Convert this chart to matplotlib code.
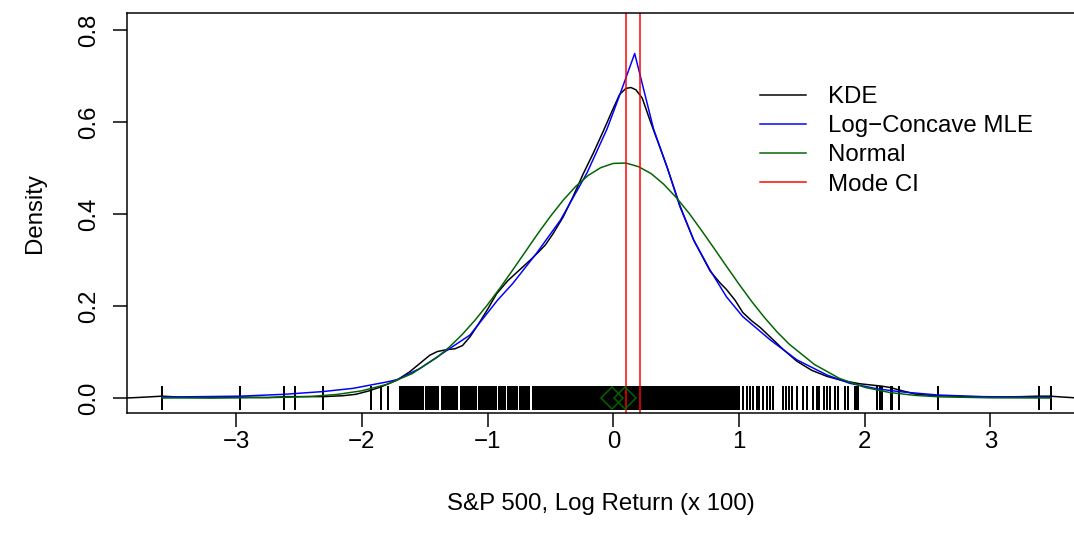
import matplotlib
matplotlib.use("Agg")
import matplotlib.pyplot as plt

plt.rcParams['font.family'] = ['Liberation Sans', 'DejaVu Sans']

# kernel density estimate
kde_x = [-3.87, -3.72, -3.59, -3.45, -3.20, -2.97, -2.75, -2.60, -2.45, -2.30,
         -2.15, -2.05, -1.95, -1.85, -1.72, -1.62, -1.54, -1.46, -1.40, -1.33,
         -1.26, -1.20, -1.14, -1.07, -1.00, -0.93, -0.84, -0.74, -0.66, -0.60,
         -0.54, -0.48, -0.40, -0.32, -0.24, -0.16, -0.08, 0.00, 0.05, 0.10,
         0.14, 0.18, 0.23, 0.29, 0.33, 0.38, 0.43, 0.53, 0.64, 0.77,
         0.85, 0.90, 0.97, 1.03, 1.10, 1.17, 1.22, 1.27, 1.35, 1.46,
         1.58, 1.70, 1.82, 1.96, 2.06, 2.13, 2.20, 2.28, 2.41, 2.58,
         2.80, 3.07, 3.25, 3.38, 3.47, 3.58, 3.70]
kde_y = [0.000, 0.002, 0.004, 0.002, 0.0005, 0.002, 0.001, 0.003, 0.003, 0.003,
         0.005, 0.008, 0.015, 0.024, 0.039, 0.057, 0.075, 0.093, 0.101, 0.105,
         0.107, 0.114, 0.133, 0.162, 0.193, 0.226, 0.255, 0.280, 0.300, 0.316,
         0.333, 0.357, 0.393, 0.438, 0.487, 0.532, 0.580, 0.630, 0.660, 0.673,
         0.675, 0.670, 0.652, 0.605, 0.575, 0.538, 0.500, 0.418, 0.343, 0.276,
         0.250, 0.236, 0.212, 0.186, 0.168, 0.153, 0.140, 0.127, 0.106, 0.080,
         0.060, 0.047, 0.038, 0.031, 0.028, 0.026, 0.023, 0.017, 0.008, 0.005,
         0.003, 0.002, 0.003, 0.004, 0.004, 0.002, 0.000]

# log-concave MLE
mle_x = [-3.59, -2.97, -2.62, -2.31, -2.07, -1.80, -1.72, -1.54, -1.31, -1.14,
         -0.92, -0.80, -0.61, -0.42, -0.21, -0.05, 0.05, 0.17, 0.32, 0.43,
         0.53, 0.64, 0.77, 0.90, 1.03, 1.25, 1.46, 1.70, 1.88, 2.10,
         2.28, 2.58, 2.94, 3.48]
mle_y = [0.002, 0.004, 0.008, 0.014, 0.021, 0.035, 0.040, 0.064, 0.106, 0.137,
         0.213, 0.249, 0.315, 0.387, 0.489, 0.585, 0.658, 0.749, 0.585, 0.500,
         0.416, 0.343, 0.278, 0.220, 0.177, 0.126, 0.083, 0.050, 0.032, 0.020,
         0.0137, 0.0065, 0.003, 0.0015]

# normal fit
norm_x = [-3.59, -3.0, -2.6, -2.4, -2.2, -2.0, -1.8, -1.6, -1.4, -1.3,
          -1.2, -1.1, -1.0, -0.9, -0.8, -0.7, -0.6, -0.5, -0.4, -0.3,
          -0.2, -0.1, 0.0, 0.1, 0.2, 0.3, 0.4, 0.5, 0.6, 0.7,
          0.8, 0.9, 1.0, 1.1, 1.2, 1.3, 1.4, 1.6, 1.8, 2.0,
          2.2, 2.4, 2.6, 3.0, 3.48]
norm_y = [0.0000, 0.0002, 0.0015, 0.0035, 0.0077, 0.0157, 0.0298, 0.0531, 0.0887, 0.1119,
          0.1387, 0.1693, 0.2031, 0.2397, 0.2785, 0.3180, 0.3576, 0.3950, 0.4297, 0.4598,
          0.4839, 0.5008, 0.5100, 0.5108, 0.5030, 0.4880, 0.4650, 0.4360, 0.4026, 0.3650,
          0.3260, 0.2864, 0.2475, 0.2102, 0.1758, 0.1445, 0.1169, 0.0729, 0.0425, 0.0232,
          0.0119, 0.0057, 0.0025, 0.0004, 0.0000]

mode_ci = [0.10, 0.21]
center_marks = [-0.01, 0.09]

# observations shown as a rug
rug_tail_left = [-3.59, -2.97, -2.62, -2.53, -2.31, -1.93, -1.85, -1.79]
rug_core_left = [-1.70, -1.685, -1.665, -1.65, -1.635, -1.62, -1.605, -1.59, -1.575, -1.56,
                 -1.545, -1.53, -1.515, -1.49, -1.475, -1.455, -1.44, -1.425, -1.41, -1.395,
                 -1.365, -1.35, -1.335, -1.32, -1.305, -1.29, -1.275, -1.26, -1.245, -1.215,
                 -1.20, -1.185, -1.17, -1.155, -1.14, -1.125, -1.11, -1.095, -1.07, -1.055,
                 -1.04, -1.025, -1.01, -0.995, -0.98, -0.965, -0.95, -0.935, -0.91, -0.895,
                 -0.88, -0.865, -0.84, -0.825, -0.81, -0.795, -0.78, -0.765, -0.745, -0.73,
                 -0.715, -0.70, -0.685, -0.67, -0.64, -0.625, -0.61, -0.595, -0.58, -0.565,
                 -0.55]
rug_core_mid = [-0.54, -0.53, -0.52, -0.51, -0.50, -0.49, -0.48, -0.47, -0.46, -0.45,
                -0.44, -0.43, -0.42, -0.41, -0.40, -0.39, -0.38, -0.37, -0.36, -0.35,
                -0.34, -0.33, -0.32, -0.31, -0.30, -0.29, -0.28, -0.27, -0.26, -0.25,
                -0.24, -0.23, -0.22, -0.21, -0.20, -0.19, -0.18, -0.17, -0.16, -0.15,
                -0.14, -0.13, -0.12, -0.11, -0.10, -0.09, -0.08, -0.07, -0.06, -0.05,
                -0.04, -0.03, -0.02, -0.01, 0.00, 0.01, 0.02, 0.03, 0.04, 0.05,
                0.06, 0.07, 0.08, 0.09, 0.10, 0.11, 0.12, 0.13, 0.14, 0.15,
                0.16, 0.17, 0.18, 0.19, 0.20, 0.21, 0.22, 0.23, 0.24, 0.25,
                0.26, 0.27, 0.28, 0.29, 0.30, 0.31, 0.32, 0.33, 0.34, 0.35,
                0.36, 0.37, 0.38, 0.39, 0.40, 0.41, 0.42, 0.43, 0.44, 0.45,
                0.46, 0.47, 0.48, 0.49, 0.50, 0.51, 0.52, 0.53, 0.54, 0.55,
                0.56, 0.57, 0.58, 0.59, 0.60, 0.61, 0.62, 0.63, 0.64, 0.65,
                0.66, 0.67, 0.68, 0.69, 0.70, 0.71, 0.72, 0.73, 0.74, 0.75,
                0.76, 0.77, 0.78, 0.79, 0.80, 0.81, 0.82, 0.83, 0.84, 0.85,
                0.86, 0.87, 0.88, 0.89, 0.90, 0.91, 0.92, 0.93, 0.94, 0.95,
                0.96, 0.97, 0.98, 0.99, 1.00]
rug_tail_right = [1.03, 1.06, 1.09, 1.11, 1.14, 1.16, 1.19, 1.22, 1.25, 1.27,
                  1.35, 1.37, 1.40, 1.42, 1.46, 1.51, 1.54, 1.59, 1.62, 1.64,
                  1.68, 1.70, 1.72, 1.76, 1.79, 1.84, 1.87, 1.92, 1.94, 1.95,
                  2.10, 2.12, 2.13, 2.14, 2.21, 2.22, 2.27, 2.58, 3.39, 3.48]

rug = rug_tail_left + rug_core_left + rug_core_mid + rug_tail_right

fig = plt.figure(figsize=(1074 / 144, 535 / 144), dpi=144)
ax = fig.add_axes([127 / 1074, 122 / 535, 948 / 1074, 400 / 535])

lw = 0.75
ax.plot(kde_x, kde_y, color='black', lw=lw, label='KDE')
ax.vlines(rug, -0.027, 0.026, color='black', lw=1.0)
ax.plot(mle_x, mle_y, color='blue', lw=lw, label='Log\u2212Concave MLE')
ax.plot(norm_x, norm_y, color='darkgreen', lw=lw, label='Normal')
for v in mode_ci:
    ci = ax.axvline(v, color='red', lw=lw)
ci.set_label('Mode CI')
ax.plot(center_marks, [0, 0], linestyle='none', marker='D', ms=7.5,
        mfc='none', mec='darkgreen', mew=lw)

ax.set_xlim(-3.869, 3.673)
ax.set_ylim(-0.0326, 0.837)
ax.set_xticks([-3, -2, -1, 0, 1, 2, 3])
ax.set_yticks([0.0, 0.2, 0.4, 0.6, 0.8])
ax.set_yticklabels(['0.0', '0.2', '0.4', '0.6', '0.8'], rotation=90, va='center')
ax.tick_params(length=7.2, width=lw, labelsize=12, pad=2)
ax.tick_params(axis='y', pad=6)
for s in ax.spines.values():
    s.set_linewidth(lw)

ax.set_xlabel('S&P 500, Log Return (x 100)', fontsize=12, labelpad=20)
ax.set_ylabel('Density', fontsize=12, labelpad=16.5)

ax.legend(loc='upper left', bbox_to_anchor=(760 / 1074, 1 - 86 / 535),
          bbox_transform=fig.transFigure, frameon=False, fontsize=12,
          handlelength=1.9, handletextpad=0.95, labelspacing=0.3,
          borderpad=0, borderaxespad=0)

fig.savefig('out.png', dpi=144)
